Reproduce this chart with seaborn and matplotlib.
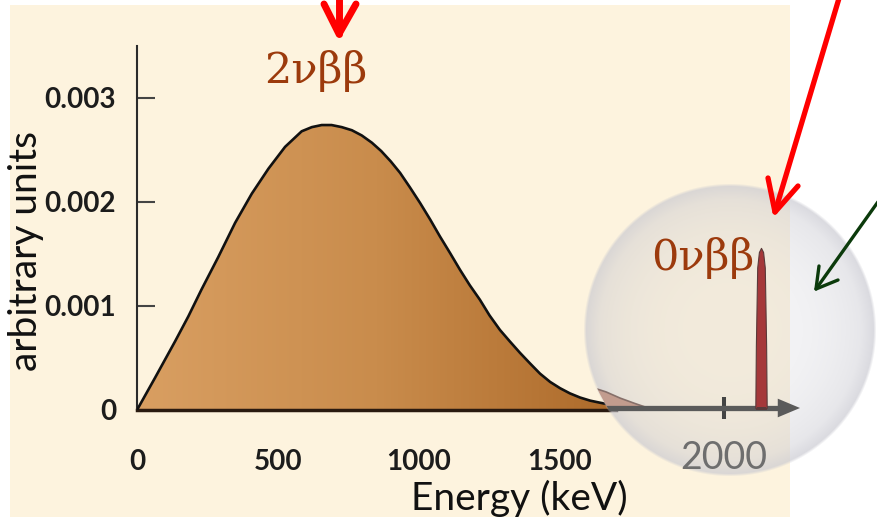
import numpy as np
import pandas as pd
import matplotlib
matplotlib.use("Agg")
import matplotlib.pyplot as plt
from matplotlib.colors import LinearSegmentedColormap
from matplotlib.patches import Rectangle, Circle
import seaborn as sns

# ---- data -------------------------------------------------------------
# two-neutrino double beta spectrum (energy in keV, arbitrary units)
energy_kev = [0, 64, 135, 182, 229, 288, 348, 407, 466, 525, 584, 620, 655,
              690, 726, 762, 797, 833, 866, 900, 933, 968, 1004, 1040, 1074,
              1110, 1145, 1180, 1216, 1250, 1287, 1322, 1358, 1393, 1429,
              1465, 1500, 1535, 1571, 1607, 1642, 1700]
spectrum_2nu = [0.0, 0.00031, 0.00066, 0.00090, 0.00116, 0.00147, 0.00180,
                0.00208, 0.00232, 0.00253, 0.00268, 0.00272, 0.00274, 0.00274,
                0.00272, 0.00269, 0.00264, 0.00257, 0.00249, 0.00239, 0.00228,
                0.00214, 0.00199, 0.00183, 0.00167, 0.00151, 0.00135, 0.00120,
                0.00106, 0.00091, 0.00077, 0.00066, 0.00055, 0.00045, 0.00035,
                0.00027, 0.00021, 0.00016, 0.00012, 0.00009, 0.00007, 0.00004]

# magnified end-point region
tail_kev = [1858, 1875, 1890, 1905, 1921]
tail_2nu = [0.00021, 0.00016, 0.00010, 0.00005, 0.0]
peak_kev = [2033.0, 2033.6, 2035.0, 2036.8, 2039.0, 2041.2, 2043.0, 2044.4, 2045.0]
peak_0nu = [0.0, 0.0006, 0.00135, 0.00150, 0.00154, 0.00150, 0.00135, 0.0006, 0.0]

x_ticks = [0, 500, 1000, 1500]
x_tick_labels = ["0", "500", "1000", "1500"]
y_ticks = [0, 0.001, 0.002, 0.003]
y_tick_labels = ["0", "0.001", "0.002", "0.003"]
lens_ticks = [2000]
lens_tick_labels = ["2000"]

spec = pd.DataFrame({"energy": energy_kev, "counts": spectrum_2nu})

# ---- figure -----------------------------------------------------------
sns.set_style("white", {"xtick.bottom": True, "ytick.left": True})
plt.rcParams["font.family"] = ["Lato", "DejaVu Sans"]
W, H = 877, 522
fig = plt.figure(figsize=(W / 100, H / 100), dpi=100)
fig.patch.set_facecolor("white")

# page background
ax_bg = fig.add_axes([0, 0, 1, 1], zorder=0)
ax_bg.set_xlim(0, W)
ax_bg.set_ylim(H, 0)
ax_bg.axis("off")
ax_bg.add_patch(Rectangle((10, 5), 780, 512, facecolor="#fdf3de", edgecolor="none"))

# main spectrum axes
ax = fig.add_axes([137 / W, (H - 410) / H, 663 / W, 364 / H], zorder=1)
ax.patch.set_visible(False)

fill = ax.fill_between(spec["energy"], spec["counts"], 0, facecolor="none",
                       edgecolor="none")
brown = LinearSegmentedColormap.from_list("brown", ["#d99f62", "#c98c4c", "#ad6a2a"])
grad = np.linspace(0, 1, 256)[None, :]
im = ax.imshow(grad, extent=[0, max(energy_kev), 0, max(spectrum_2nu) * 1.05],
               aspect="auto", cmap=brown, zorder=1, origin="lower")
im.set_clip_path(fill.get_paths()[0], ax.transData)
sns.lineplot(data=spec, x="energy", y="counts", ax=ax, color="#111111",
             lw=1.9, zorder=3, sort=False)
ax.set_xlim(0, 663 / 0.282)
ax.set_ylim(0, 0.0035)

for side in ("top", "right"):
    ax.spines[side].set_visible(False)
ax.spines["left"].set_color("#2b2b2b")
ax.spines["left"].set_linewidth(1.5)
ax.spines["bottom"].set_color("#2a1a10")
ax.spines["bottom"].set_linewidth(2.5)
ax.spines["bottom"].set_bounds(0, 1700)

tick_font = dict(family=["Lato", "DejaVu Sans"], weight="bold", size=20)
ax.set_xticks(x_ticks)
ax.set_xticklabels(x_tick_labels, fontdict=tick_font, color="#1c1c1c")
ax.set_yticks(y_ticks)
ax.set_yticklabels(y_tick_labels, fontdict=tick_font, color="#1c1c1c")
ax.tick_params(axis="x", bottom=True, direction="in", length=9, width=1.1,
               color="#2a1a10", pad=28)
ax.tick_params(axis="y", left=True, direction="in", length=13, width=1.5,
               color="#444444", pad=15)

ax.set_xlabel("Energy (keV)", fontsize=28, color="#111111", va="center")
ax.xaxis.set_label_coords((519 - 137) / 663, (410 - 498) / 364)
ax.set_ylabel("arbitrary units", fontsize=28, color="#111111", va="center")
ax.yaxis.set_label_coords((26 - 137) / 663, (410 - 251) / 364)

i_max = int(np.argmax(spectrum_2nu))
ax.annotate("2\u03bd\u03b2\u03b2", xy=(energy_kev[i_max], spectrum_2nu[i_max]),
            xytext=(-4, 30), textcoords="offset points", ha="center",
            va="baseline", fontsize=31, family="DejaVu Serif", color="#9c3a0c")

# magnifying lens and call-out arrows (pixel space)
ax_ov = fig.add_axes([0, 0, 1, 1], zorder=2)
ax_ov.set_xlim(0, W)
ax_ov.set_ylim(H, 0)
ax_ov.axis("off")
ax_ov.patch.set_visible(False)

cx, cy, R = 730, 330, 145
pad = 4
n = 2 * (R + pad)
yy, xx = np.mgrid[0:n, 0:n] + 0.5
r = np.hypot(xx - n / 2, yy - n / 2)
rn = np.clip(r / R, 0, 1)
alpha = 0.20 + 0.34 * rn ** 3 + 0.16 * np.clip((rn - 0.9) / 0.1, 0, 1)
alpha *= np.clip((R + 1.5 - r) / 3.0, 0, 1)
rgba = np.zeros((n, n, 4))
rgba[..., 0] = 0.79
rgba[..., 1] = 0.79
rgba[..., 2] = 0.82
rgba[..., 3] = alpha
ax_ov.imshow(rgba, extent=[cx - R - pad, cx + R + pad, cy + R + pad, cy - R - pad],
             origin="upper", zorder=1, interpolation="bilinear")
lens_clip = Circle((cx, cy), R, transform=ax_ov.transData, facecolor="none",
                   edgecolor="none")
ax_ov.add_patch(lens_clip)


def chevron_arrow(tail, tip, arm_a, arm_b, color, lw):
    style = dict(color=color, lw=lw, solid_capstyle="round", solid_joinstyle="round",
                 zorder=5)
    ax_ov.plot([tail[0], tip[0]], [tail[1], tip[1]], **style)
    ax_ov.plot([arm_a[0], tip[0], arm_b[0]], [arm_a[1], tip[1], arm_b[1]], **style)


chevron_arrow((339, -5), (339, 34), (324, 4), (356, 4), "#ff0000", 5.0)
chevron_arrow((840, -5), (775, 212), (768, 178), (798, 186), "#ff0000", 3.8)
chevron_arrow((880, 199), (816, 289), (819, 266), (838, 280), "#0b3a0b", 2.4)

# content seen through the lens
lens_px_left, lens_px_right = 587, 873
k = (761 - 724) / 39.0
x0 = 2000 - (724 - lens_px_left) / k
x1 = 2000 + (lens_px_right - 724) / k
axl = fig.add_axes([lens_px_left / W, (H - 477) / H,
                    (lens_px_right - lens_px_left) / W, 294 / H], zorder=3)
axl.patch.set_visible(False)
axl.set_xlim(x0, x1)
axl.set_ylim(-69 / 104e3, 225 / 104e3)

tail = axl.fill_between(tail_kev, tail_2nu, 0, facecolor="#c29c8e",
                        edgecolor="#86706a", lw=1.2, zorder=2)
spike = axl.fill_between(peak_kev, peak_0nu, 0, facecolor="#a5383a",
                         edgecolor="#5a3a3a", lw=0.8, zorder=4)

tip_frac = (800 - lens_px_left) / (lens_px_right - lens_px_left)
tip_x = x0 + tip_frac * (x1 - x0)
for side in ("top", "right", "left"):
    axl.spines[side].set_visible(False)
axl.spines["bottom"].set_position(("data", 0))
axl.spines["bottom"].set_bounds(x0, tip_x - 20 / k)
axl.spines["bottom"].set_color("#5a5a5a")
axl.spines["bottom"].set_linewidth(3.8)
axl.spines["bottom"].set_zorder(3)
axl.annotate("", xy=(tip_x, 0), xytext=(tip_x - 25 / k, 0),
             arrowprops=dict(arrowstyle="-|>,head_length=1.0,head_width=0.42",
                             mutation_scale=16, color="#5a5a5a", lw=0,
                             shrinkA=0, shrinkB=0), zorder=3)
axl.set_yticks([])
axl.set_xticks(lens_ticks)
axl.set_xticklabels(lens_tick_labels, fontsize=27, color="#6e6e6e")
axl.tick_params(axis="x", bottom=True, direction="inout", length=16.5, width=2.9,
                color="#444444", pad=15)

i_pk = int(np.argmax(peak_0nu))
axl.annotate("0\u03bd\u03b2\u03b2", xy=(peak_kev[i_pk], peak_0nu[i_pk]),
             xytext=(-5, -16), textcoords="offset points", ha="right",
             va="baseline", fontsize=31, family="DejaVu Serif", color="#9c3a0c")

for art in [tail, spike, axl.spines["bottom"]]:
    art.set_clip_path(lens_clip)

fig.savefig("out.png", dpi=100, facecolor="white")
